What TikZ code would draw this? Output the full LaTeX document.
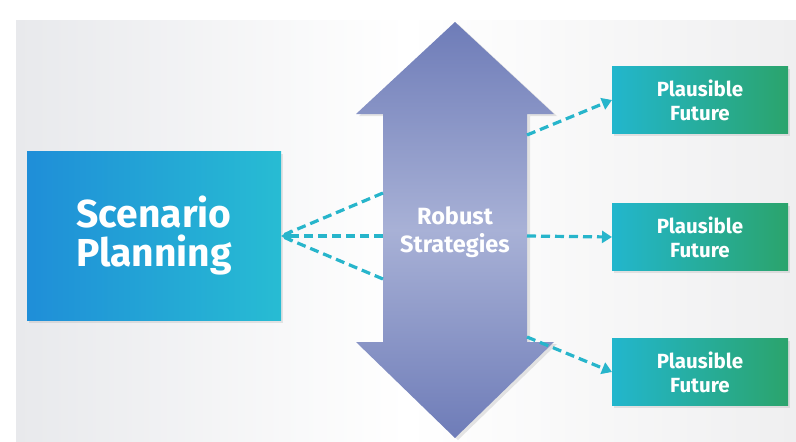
\documentclass[tikz,border=0pt]{standalone}
\usepackage{fontspec}
\setmainfont{Fira Sans}
\usetikzlibrary{arrows.meta,shadows}
\definecolor{spL}{HTML}{1F8ED8}
\definecolor{spR}{HTML}{27BCD3}
\definecolor{pfL}{HTML}{22B6CD}
\definecolor{pfR}{HTML}{2BA46C}
\definecolor{arD}{HTML}{6E7CB8}
\definecolor{arL}{HTML}{A8B1D6}
\definecolor{dashc}{HTML}{27B5CB}
\definecolor{bgL}{HTML}{E8E9EC}
\definecolor{bgR}{HTML}{EFEFF0}
\tikzset{
  spbox/.style={inner sep=0pt, outer sep=0pt, minimum width=254pt, minimum height=169pt,
    left color=spL, right color=spR, text=white, align=center,
    font=\bfseries\fontsize{39}{39}\selectfont,
    drop shadow={opacity=0.18, shadow xshift=2pt, shadow yshift=-2pt}},
  pfbox/.style={inner sep=0pt, outer sep=0pt, minimum width=176pt, minimum height=67pt,
    left color=pfL, right color=pfR, text=white, align=center,
    font=\bfseries\fontsize{20.5}{24}\selectfont,
    drop shadow={opacity=0.18, shadow xshift=2pt, shadow yshift=-2pt}},
  rslabel/.style={text=white, align=center, font=\bfseries\fontsize{23.5}{28}\selectfont},
  dashline/.style={draw=dashc, line width=3.2pt, dash pattern=on 9pt off 5pt},
  dashtip/.style={dashline, -{Triangle[length=10pt,width=12pt]}},
}
\begin{document}
\begin{tikzpicture}[x=1pt,y=-1pt]
\useasboundingbox (0,0) rectangle (796,442);
\fill[white] (0,0) rectangle (796,442);
\shade[left color=bgL, right color=bgR, middle color=white] (16,20) rectangle (796,442);
% big double arrow
\shade[top color=arD, bottom color=arD, middle color=arL,
  drop shadow={opacity=0.2, shadow xshift=3pt, shadow yshift=-2pt}]
  (455,22) -- (554,114) -- (527,114) -- (527,342) -- (554,342) -- (455,438)
  -- (356,342) -- (383,342) -- (383,114) -- (356,114) -- cycle;
\node[rslabel] (rs) at (455,232) {Robust\\Strategies};
\coordinate (aL1) at (383,193);
\coordinate (aL2) at (383,236);
\coordinate (aL3) at (383,279);
\coordinate (aR1) at (527,135);
\coordinate (aR2) at (527,236);
\coordinate (aR3) at (527,337);
% boxes
\node[spbox] (sp) at (154,236) {Scenario\\Planning};
\node[pfbox] (pf1) at (700,100) {Plausible\\Future};
\node[pfbox] (pf2) at (700,237) {Plausible\\Future};
\node[pfbox] (pf3) at (700,372) {Plausible\\Future};
% connectors
\draw[dashline] (aL1) -- (sp.east);
\draw[dashline] (aL3) -- (sp.east);
\draw[dashtip] (aL2) -- (sp.east);
\draw[dashtip] (aR1) -- (pf1.west);
\draw[dashtip] (aR2) -- (pf2.west);
\draw[dashtip] (aR3) -- (pf3.west);
\end{tikzpicture}
\end{document}
